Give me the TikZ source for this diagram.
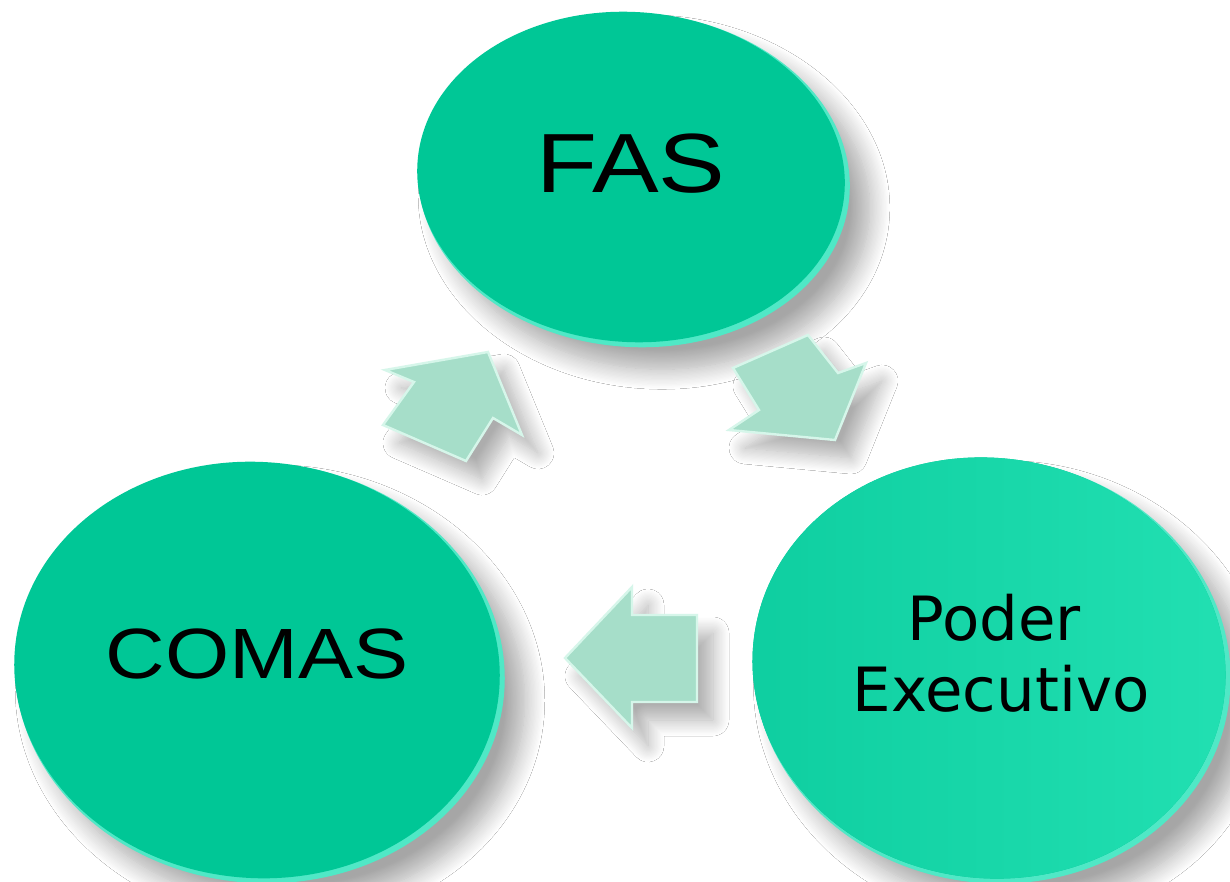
\documentclass[tikz,border=0pt]{standalone}
\usepackage{fontspec}
\setmainfont{Liberation Sans}
\newfontfamily\pefont{DejaVu Sans}
\usetikzlibrary{shapes.geometric,shadows.blur}
\definecolor{discgreen}{RGB}{0,199,150}
\definecolor{discrim}{RGB}{80,232,198}
\definecolor{peleft}{RGB}{14,206,160}
\definecolor{peright}{RGB}{34,224,178}
\definecolor{arrowfill}{RGB}{166,222,201}
\definecolor{arrowedge}{RGB}{214,246,234}
\tikzset{
  discbase/.style={ellipse, inner sep=0pt, fill=discrim, draw=none,
    blur shadow={shadow xshift=10pt, shadow yshift=-11pt, shadow blur radius=10pt,
      shadow blur steps=16, shadow opacity=35}},
  disctop/.style={ellipse, inner sep=0pt, fill=discgreen, draw=none},
  blockarrow/.style={fill=arrowfill, draw=arrowedge, line width=1.2pt, line join=miter,
    blur shadow={shadow xshift=8pt, shadow yshift=-9pt, shadow blur radius=8pt,
      shadow blur steps=14, shadow opacity=32}},
  bigtext/.style={anchor=base, inner sep=0pt, text=black}
}
\begin{document}
\begin{tikzpicture}[x=0.5pt,y=-0.5pt]
\useasboundingbox (0,0) rectangle (1230,882);
\fill[white] (0,0) rectangle (1230,882);

% FAS disc
\node[discbase, rotate=-4, minimum width=216pt, minimum height=167pt] (fasrim) at (634,180) {};
\node[disctop, rotate=-4, minimum width=214pt, minimum height=165pt] (fas) at (631,177) {};
\node[bigtext, font=\fontsize{42}{42}\selectfont, xscale=1.19] (fastext) at (631,193) {FAS};

% COMAS disc
\node[discbase, rotate=-5, minimum width=245pt, minimum height=210pt] (comasrim) at (260,673) {};
\node[disctop, rotate=-5, minimum width=243pt, minimum height=208pt] (comas) at (257,670) {};
\node[bigtext, font=\fontsize{35.6}{36}\selectfont, xscale=1.16] (comastext) at (257,678) {COMAS};

% Poder Executivo disc
\node[discbase, rotate=-8, minimum width=239pt, minimum height=212pt] (perim) at (992,671) {};
\node[disctop, rotate=-8, left color=peleft, right color=peright, minimum width=237pt, minimum height=210pt] (pe) at (989,668) {};
\node[bigtext, font=\pefont\fontsize{30.5}{31}\selectfont] (petext1) at (994,640) {Poder};
\node[bigtext, font=\pefont\fontsize{30.5}{31}\selectfont] (petext2) at (1001,711) {Executivo};

% arrow COMAS -> FAS
\path[blockarrow] (488,352) -- (522,435) -- (493,418) -- (466,461) -- (383,425) -- (414,382) -- (385,370) -- cycle;
% arrow FAS -> Poder Executivo
\path[blockarrow] (733,368) -- (808,335) -- (838,373) -- (866,363) -- (835,440) -- (729,430) -- (759,410) -- cycle;
% arrow Poder Executivo -> COMAS
\path[blockarrow] (565,658) -- (632,587) -- (632,615) -- (697,615) -- (697,702) -- (632,702) -- (632,728) -- cycle;
\end{tikzpicture}
\end{document}
